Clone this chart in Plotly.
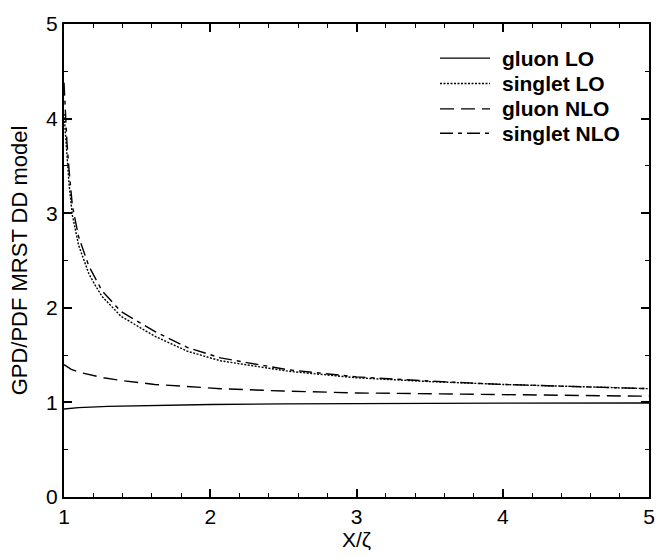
import plotly.graph_objects as go

# ---- data ----
x_gluon_lo = [1.0, 1.1, 1.3, 1.62, 2.0, 2.5, 3.0, 4.0, 5.0]
gluon_lo = [0.93, 0.945, 0.958, 0.970, 0.978, 0.984, 0.988, 0.992, 0.994]

x_singlet_lo = [1.0, 1.01, 1.02, 1.035, 1.057, 1.10, 1.17, 1.205, 1.26, 1.39,
                1.62, 1.845, 2.07, 2.53, 3.0, 3.5, 4.0, 4.5, 5.0]
singlet_lo = [4.05, 3.80, 3.55, 3.30, 2.98, 2.66, 2.36, 2.26, 2.12, 1.91,
              1.70, 1.54, 1.44, 1.33, 1.26, 1.22, 1.19, 1.165, 1.145]

x_gluon_nlo = [1.0, 1.05, 1.1, 1.18, 1.27, 1.4, 1.62, 2.07, 2.5, 3.0, 3.5, 4.0, 4.5, 5.0]
gluon_nlo = [1.40, 1.35, 1.32, 1.29, 1.26, 1.23, 1.19, 1.145, 1.12, 1.10, 1.09, 1.08, 1.07, 1.065]

x_singlet_nlo = [1.0, 1.01, 1.02, 1.035, 1.057, 1.10, 1.17, 1.26, 1.39,
                 1.62, 1.845, 2.07, 2.53, 3.0, 3.5, 4.0, 4.5, 5.0]
singlet_nlo = [4.38, 4.00, 3.75, 3.45, 3.08, 2.75, 2.44, 2.18, 1.96,
               1.75, 1.58, 1.47, 1.345, 1.27, 1.225, 1.19, 1.165, 1.145]

series_names = ["gluon LO", "singlet LO", "gluon NLO", "singlet NLO"]
series_x = [x_gluon_lo, x_singlet_lo, x_gluon_nlo, x_singlet_nlo]
series_y = [gluon_lo, singlet_lo, gluon_nlo, singlet_nlo]
series_dash = ["solid", "2px,1.5px", "14px,7px", "13px,5px,4px,5px"]

# ---- figure geometry ----
W, H = 669, 557
ML, MR, MT, MB = 64, 20, 12, 60
PW, PH = W - ML - MR, H - MT - MB

def px_to_paper(px, py):
    return (px - ML) / PW, (H - MB - py) / PH

fig = go.Figure()
for name, xs, ys, dash in zip(series_names, series_x, series_y, series_dash):
    fig.add_trace(go.Scatter(x=xs, y=ys, name=name, mode="lines", showlegend=False,
                             line=dict(color="black", width=1.4, dash=dash)))

font_family = "Liberation Sans, Arial, Helvetica, sans-serif"

# manual key (line samples + bold labels), as in the original gnuplot key
legend_rows_py = [47, 73, 99, 124]
for name, dash, py in zip(series_names, series_dash, legend_rows_py):
    x0, y0 = px_to_paper(440, py)
    x1, _ = px_to_paper(490, py)
    fig.add_shape(type="line", xref="paper", yref="paper", x0=x0, x1=x1, y0=y0, y1=y0,
                  line=dict(color="black", width=1.4, dash=dash))
    tx, _ = px_to_paper(500, py)
    fig.add_annotation(xref="paper", yref="paper", x=tx, y=y0, text=name, showarrow=False,
                       xanchor="left", yanchor="middle",
                       font=dict(family=font_family, size=21, color="black", weight="bold"))

axis_common = dict(
    showline=True, linecolor="black", linewidth=2, mirror="allticks",
    ticks="inside", ticklen=8, tickwidth=1.5, tickcolor="black",
    showgrid=False, zeroline=False,
    tickfont=dict(family=font_family, size=21, color="black"),
)

fig.update_xaxes(range=[1, 5], dtick=1, tick0=1,
                 minor=dict(dtick=0.2, ticks="inside", ticklen=4, tickcolor="black", tickwidth=1.2, showgrid=False),
                 title=dict(text="X/ζ", font=dict(family=font_family, size=21, color="black"), standoff=2),
                 **axis_common)
fig.update_yaxes(range=[0, 5], dtick=1, tick0=0,
                 minor=dict(dtick=0.5, ticks="inside", ticklen=4, tickcolor="black", tickwidth=1.2, showgrid=False),
                 title=dict(text="GPD/PDF MRST DD model", font=dict(family=font_family, size=22, color="black"), standoff=12),
                 **axis_common)

fig.update_layout(
    width=W, height=H,
    margin=dict(l=ML, r=MR, t=MT, b=MB),
    plot_bgcolor="white", paper_bgcolor="white",
    font=dict(family=font_family, color="black"),
    showlegend=False,
)

fig.write_html("out.html")
